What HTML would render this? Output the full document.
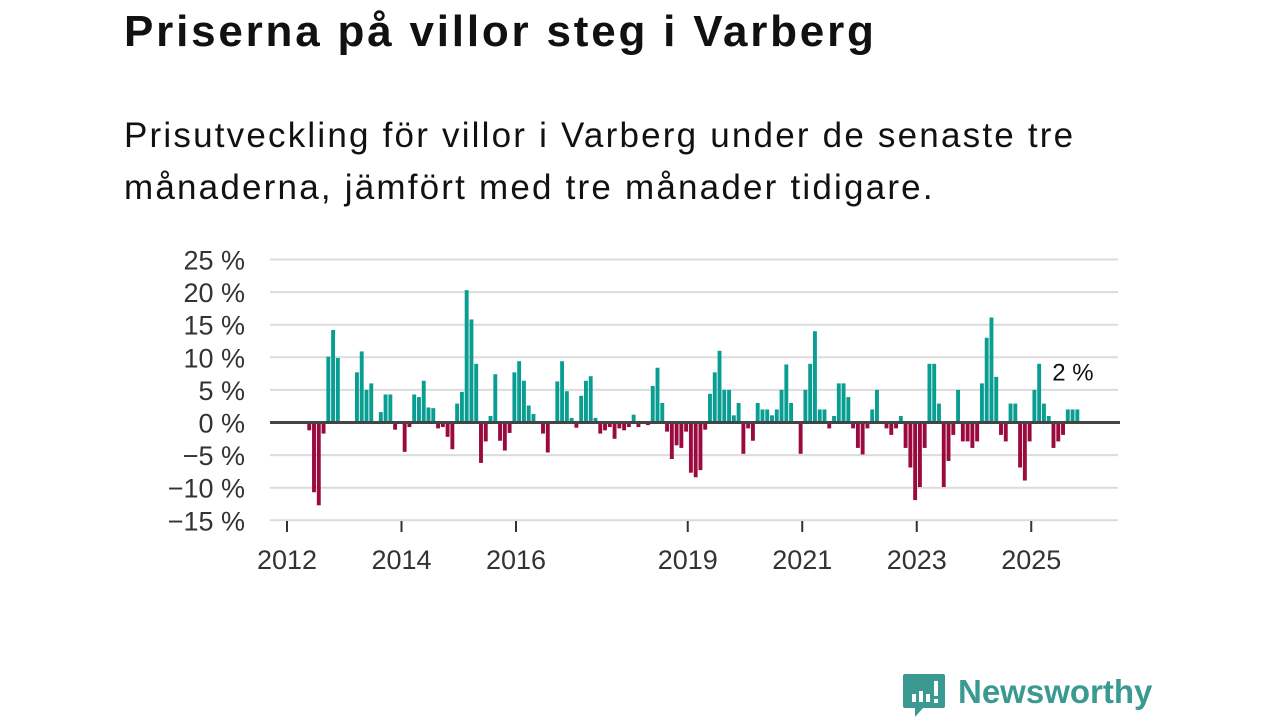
<!DOCTYPE html>
<html><head><meta charset="utf-8">
<style>
html,body{margin:0;padding:0;background:#fff;width:1280px;height:720px;overflow:hidden;font-family:"Liberation Sans","DejaVu Sans",sans-serif;}
#title{position:absolute;left:124px;top:7px;font-size:44px;font-weight:bold;color:#111;margin:0;letter-spacing:2.8px}
#subtitle{position:absolute;left:124px;top:110px;width:980px;font-size:35px;line-height:52px;color:#111;margin:0;letter-spacing:2.2px}
#chart{position:absolute;left:0;top:0}
#logo{position:absolute;left:903px;top:672px;}
</style></head><body>
<h1 id="title">Priserna på villor steg i Varberg</h1>
<p id="subtitle">Prisutveckling för villor i Varberg under de senaste tre månaderna, jämfört med tre månader tidigare.</p>
<svg id="chart" width="1280" height="720"></svg>
<div id="logo">
<svg width="260" height="50">
<path d="M2,2 h38 a2,2 0 0 1 2,2 v30 a2,2 0 0 1 -2,2 h-20 l-8,9 v-9 h-10 a2,2 0 0 1 -2,-2 v-30 a2,2 0 0 1 2,-2z" fill="#3a9a92"/>
<rect x="9" y="22" width="4" height="8" fill="#fff"/><rect x="16" y="19" width="4" height="11" fill="#fff"/><rect x="23" y="22" width="4" height="8" fill="#fff"/><rect x="31" y="9" width="4" height="15" fill="#fff"/><rect x="31" y="27" width="4" height="4" fill="#fff"/>
<text x="55" y="31" font-size="33" font-weight="bold" fill="#3a9a92" font-family="Liberation Sans, sans-serif">Newsworthy</text>
</svg></div>
<script>
const startYear = 2012;
const startMonth = 4; // zero-based month index of first value (May 2012)
const values = [-1.2,-10.7,-12.7,-1.7,10.1,14.2,9.9,0,0,0,7.7,10.9,5.0,6.0,0,1.6,4.3,4.3,-1.1,0,-4.5,-0.7,4.3,3.9,6.4,2.3,2.2,-0.9,-0.7,-2.2,-4.1,2.9,4.7,20.3,15.8,9.0,-6.2,-2.9,1.0,7.4,-2.8,-4.3,-1.6,7.7,9.4,6.4,2.6,1.3,0.2,-1.7,-4.6,0,6.3,9.4,4.8,0.7,-0.8,4.1,6.4,7.1,0.7,-1.7,-1.2,-0.7,-2.5,-0.9,-1.2,-0.7,1.2,-0.7,0,-0.4,5.6,8.4,3.0,-1.4,-5.6,-3.5,-3.9,-1.4,-7.7,-8.4,-7.3,-1.1,4.4,7.7,11.0,5.0,5.0,1.1,3.0,-4.8,-0.9,-2.8,3.0,2.0,2.0,1.1,2.0,5.0,8.9,3.0,0,-4.8,5.0,9.0,14.0,2.0,2.0,-0.9,1.0,6.0,6.0,3.9,-0.9,-3.9,-4.9,-0.9,2.0,5.0,0,-0.9,-1.9,-0.9,1.0,-3.9,-6.9,-11.9,-9.9,-3.9,9.0,9.0,2.9,-9.9,-5.9,-1.9,5.0,-2.9,-2.9,-3.9,-2.9,6.0,13.0,16.1,7.0,-1.9,-2.9,2.9,2.9,-6.9,-8.9,-2.9,5.0,9.0,2.9,1.0,-3.9,-2.9,-1.9,2.0,2.0,2.0];
const yTicks = [25,20,15,10,5,0,-5,-10,-15];
const yTickLabels = ["25 %","20 %","15 %","10 %","5 %","0 %","\u22125 %","\u221210 %","\u221215 %"];
const xTicks = [2012,2014,2016,2019,2021,2023,2025];
const lastLabel = "2 %";

const NS="http://www.w3.org/2000/svg";
const svg=document.getElementById('chart');
function y(v){return 422.5 - v*6.52;}
function x(yearFrac){return 287 + (yearFrac-2012)*57.25;}
function mk(tag,attrs){const e=document.createElementNS(NS,tag);for(const k in attrs)e.setAttribute(k,attrs[k]);svg.appendChild(e);return e;}

yTicks.forEach((t,i)=>{
  if(t!==0){
    const g=mk('line',{x1:270,x2:1118,y1:y(t),y2:y(t),stroke:'#dcdcdc','stroke-width':2});
    
    
  }
  const l=mk('text',{x:245,y:y(t)+10,'text-anchor':'end','font-size':27,fill:'#333','font-family':'Liberation Sans, sans-serif'});
  l.textContent=yTickLabels[i];
  
  
});
xTicks.forEach(t=>{
  const tk=mk('line',{x1:x(t),x2:x(t),y1:521,y2:532,stroke:'#333','stroke-width':2});
  
  
  const l=mk('text',{x:x(t),y:569,'text-anchor':'middle','font-size':27,fill:'#333','font-family':'Liberation Sans, sans-serif'});
  l.textContent=t;
  
  
});
values.forEach((v,i)=>{
  if(v===0) return;
  const m=startMonth+i;
  const x0=x(startYear+m/12)+1.2;
  const r=mk('rect',{x:x0,width:3.9,y:Math.min(y(v),y(0)),height:Math.abs(y(v)-y(0)),fill:v>0?'#0a9e93':'#9b0a3e'});
  
  
});
const z=mk('line',{x1:270,x2:1120,y1:y(0),y2:y(0),stroke:'#444','stroke-width':3});


const lastM=startMonth+values.length-1;
const ll=mk('text',{x:x(startYear+lastM/12)-22,y:y(values[values.length-1])-29,'font-size':24,fill:'#111','font-family':'Liberation Sans, sans-serif'});
ll.textContent=lastLabel;


</script>
</body></html>
